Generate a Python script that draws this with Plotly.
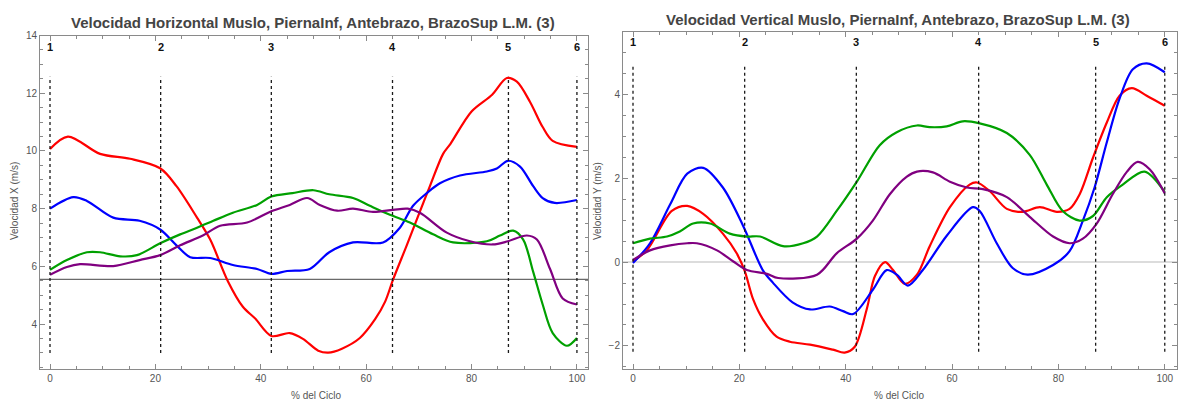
import plotly.graph_objects as go

# ---- event markers (% of cycle) ----
events = [0, 21, 42, 65, 87, 100]
event_labels = ["1", "2", "3", "4", "5", "6"]

# ---- horizontal velocity (m/s) ----
hx_red = [0, 3.4, 9.5, 15.2, 20.9, 24, 27.9, 30.4, 33.8, 36.6, 38.9, 42, 45.5, 48, 50.9, 52.8, 55.4, 58.8, 61.7, 63.6, 65.1, 67.7, 69.6, 72.1, 74.6, 76, 80, 83.9, 86.7, 88.6, 91.1, 93.5, 95.4, 100]
hy_red = [10.07, 10.5, 9.9, 9.73, 9.4, 8.78, 7.69, 6.93, 5.47, 4.6, 4.2, 3.59, 3.69, 3.49, 3.08, 3.01, 3.15, 3.52, 4.17, 4.78, 5.54, 6.73, 7.62, 8.78, 9.9, 10.25, 11.37, 11.95, 12.53, 12.4, 11.7, 10.83, 10.35, 10.14]

hx_blue = [0, 4.4, 7, 12, 17, 20.9, 24, 26.6, 30.4, 34.7, 39.3, 42, 45, 49.3, 53, 57.5, 63.2, 66.4, 68.9, 71.5, 74, 77.8, 82.9, 84.8, 86.9, 89.2, 91.7, 93.5, 95.8, 100]
hy_blue = [8.0, 8.4, 8.27, 7.69, 7.58, 7.28, 6.73, 6.32, 6.29, 6.05, 5.91, 5.74, 5.84, 5.91, 6.49, 6.83, 6.83, 7.34, 8.1, 8.54, 8.88, 9.15, 9.29, 9.39, 9.66, 9.46, 8.78, 8.37, 8.2, 8.3]

hx_green = [0, 3.2, 7, 9.5, 13.3, 16.5, 20.9, 24.7, 27.9, 31, 34.7, 39.3, 42, 46, 50, 53, 57.5, 60.7, 64.5, 68.3, 72.7, 76.5, 82.9, 85.4, 87.9, 89.8, 91.7, 93.5, 95.4, 98.1, 100]
hy_green = [5.88, 6.22, 6.49, 6.49, 6.35, 6.39, 6.8, 7.11, 7.34, 7.58, 7.86, 8.13, 8.42, 8.54, 8.64, 8.5, 8.37, 8.1, 7.79, 7.52, 7.11, 6.83, 6.87, 7.07, 7.24, 6.93, 5.81, 4.68, 3.69, 3.25, 3.52]

hx_purple = [0, 3.2, 5.7, 12, 17, 20.9, 24.7, 29, 32.3, 37.4, 42, 45.5, 48.8, 51.2, 54.5, 57.5, 61.3, 65.1, 67.9, 70.2, 75.3, 79.7, 84, 86.9, 90.5, 92.4, 94.9, 97.3, 100]
hy_purple = [5.71, 5.98, 6.08, 6.01, 6.22, 6.39, 6.73, 7.07, 7.41, 7.52, 7.91, 8.13, 8.37, 8.13, 7.93, 8.0, 7.89, 7.96, 8.0, 7.86, 7.17, 6.87, 6.76, 6.87, 7.07, 6.93, 5.91, 4.89, 4.68]

h_axis_origin = 5.55

# ---- vertical velocity (m/s) ----
vx_red = [0, 2.6, 7.3, 10.2, 13.2, 16.9, 19.5, 21, 22.6, 24.4, 27, 29.5, 33.3, 37.6, 39.8, 41.7, 44, 45.5, 47.4, 48.9, 51.1, 53.4, 55.8, 59.6, 63.3, 64.7, 67.1, 70.3, 73.3, 76.5, 79.7, 82.1, 84, 86.5, 89.1, 91.5, 93.8, 96.6, 100]
vy_red = [0.02, 0.28, 1.22, 1.34, 1.15, 0.68, 0.21, -0.21, -0.89, -1.36, -1.78, -1.9, -1.97, -2.09, -2.16, -2.02, -1.1, -0.33, 0.0, -0.19, -0.52, -0.3, 0.38, 1.31, 1.85, 1.9, 1.69, 1.27, 1.2, 1.31, 1.2, 1.27, 1.62, 2.49, 3.33, 3.97, 4.15, 3.97, 3.73]

vx_blue = [0, 3.2, 7, 10.2, 13.2, 16.9, 20.7, 24.4, 26.3, 30, 33.3, 37, 39.5, 41.4, 45.1, 47.7, 49.6, 51.7, 54.5, 59, 63.9, 65.2, 68.4, 71.4, 74.2, 79, 82.1, 84.6, 86.8, 89.1, 91.5, 94, 96.6, 100]
vy_blue = [-0.02, 0.45, 1.38, 2.11, 2.25, 1.78, 0.87, -0.19, -0.49, -0.96, -1.13, -1.06, -1.17, -1.24, -0.66, -0.19, -0.3, -0.56, -0.19, 0.63, 1.31, 1.22, 0.45, -0.14, -0.3, -0.07, 0.26, 0.99, 1.78, 2.86, 3.9, 4.6, 4.74, 4.53]

vx_green = [0, 3.2, 6.4, 8.8, 11.3, 14.5, 18.2, 21.4, 23.9, 28.2, 32, 34.6, 38.3, 42.1, 46.4, 49.6, 53.4, 55.8, 59, 62, 65.2, 70.3, 74.6, 77.8, 80.8, 84, 86.5, 89.1, 92.1, 96.2, 100]
vy_green = [0.45, 0.56, 0.61, 0.73, 0.92, 0.92, 0.68, 0.61, 0.61, 0.38, 0.45, 0.61, 1.22, 1.92, 2.79, 3.1, 3.26, 3.22, 3.24, 3.36, 3.31, 3.08, 2.56, 1.85, 1.22, 0.99, 1.1, 1.55, 1.85, 2.16, 1.67]

vx_purple = [0, 3.2, 7, 10.2, 12, 15.8, 18.8, 21.4, 25.2, 27.3, 34.6, 38.3, 42.1, 45.1, 48.3, 51.5, 53.4, 56.4, 59.6, 62.8, 65.8, 70.3, 74.6, 79, 82.1, 84.6, 87.2, 90.2, 92.9, 94.9, 97.2, 100]
vy_purple = [0.05, 0.28, 0.4, 0.45, 0.45, 0.28, 0.02, -0.19, -0.28, -0.38, -0.3, 0.21, 0.56, 0.99, 1.62, 2.04, 2.16, 2.14, 1.92, 1.78, 1.74, 1.55, 1.08, 0.61, 0.45, 0.56, 0.92, 1.62, 2.16, 2.39, 2.21, 1.64]

RED = "#ff0000"
BLUE = "#0000ff"
GREEN = "#00a000"
PURPLE = "#800080"
FRAME = "#8a8a8a"
TXT = "#555555"

W, H = 1185, 405


def px_x(p):
    return p / W


def px_y(p):
    return 1 - p / H


fig = go.Figure()

series = [
    ("x", "y", hx_red, hy_red, RED),
    ("x", "y", hx_blue, hy_blue, BLUE),
    ("x", "y", hx_green, hy_green, GREEN),
    ("x", "y", hx_purple, hy_purple, PURPLE),
    ("x2", "y2", vx_red, vy_red, RED),
    ("x2", "y2", vx_blue, vy_blue, BLUE),
    ("x2", "y2", vx_green, vy_green, GREEN),
    ("x2", "y2", vx_purple, vy_purple, PURPLE),
]
for xa, ya, xs, ys, col in series:
    fig.add_trace(go.Scatter(
        x=xs, y=ys, xaxis=xa, yaxis=ya, mode="lines",
        line=dict(color=col, width=2.2, shape="spline", smoothing=0.9),
        showlegend=False, hoverinfo="skip",
    ))

tickfont = dict(family="Liberation Sans, Arial, sans-serif", size=10, color=TXT)


def frame_axis(domain, rng, dtick, minor_dtick, tickvals=None):
    ax = dict(
        domain=domain, range=rng, showgrid=False, zeroline=False,
        showline=True, linecolor=FRAME, linewidth=1, mirror="allticks",
        ticks="inside", ticklen=5, tickcolor=FRAME, tickwidth=1,
        tickfont=tickfont, dtick=dtick, tick0=0,
        minor=dict(dtick=minor_dtick, tick0=0, ticks="inside", ticklen=3,
                   tickcolor=FRAME, showgrid=False),
        fixedrange=True,
    )
    if tickvals is not None:
        ax["tickmode"] = "array"
        ax["tickvals"] = tickvals
        ax.pop("dtick")
    return ax


fig.update_layout(
    width=W, height=H,
    margin=dict(l=0, r=0, t=0, b=0),
    paper_bgcolor="white", plot_bgcolor="white",
    xaxis=frame_axis([px_x(40), px_x(588)], [-1.9, 102.1], 20, 5),
    yaxis=frame_axis([px_y(368), px_y(30)], [2.46, 14.0], 2, 0.5,
                     tickvals=[4, 6, 8, 10, 12, 14]),
    xaxis2=frame_axis([px_x(623), px_x(1177)], [-1.88, 102.3], 20, 5),
    yaxis2=frame_axis([px_y(368), px_y(26)], [-2.54, 5.5], 2, 0.5,
                      tickvals=[-2, 0, 2, 4]),
)
fig.layout.yaxis2.anchor = "x2"
fig.layout.xaxis2.anchor = "y2"

# reference lines
fig.add_shape(type="line", xref="x domain", yref="y", x0=0, x1=1,
              y0=h_axis_origin, y1=h_axis_origin,
              line=dict(color="#6a6a6a", width=1.2), layer="below")
fig.add_shape(type="line", xref="x2 domain", yref="y2", x0=0, x1=1,
              y0=0, y1=0, line=dict(color="#d0d0d0", width=1.5), layer="below")

# event lines and labels
for xa, ya, y_lo, y_hi, y_lab in [("x", "y", 0.047, 0.876, 0.967),
                                  ("x2", "y2", 0.05, 0.90, 0.968)]:
    for ev, lab in zip(events, event_labels):
        fig.add_shape(type="line", xref=xa, yref=f"{ya} domain",
                      x0=ev, x1=ev, y0=y_lo, y1=y_hi,
                      line=dict(color="#1a1a1a", width=1.3, dash="3px,3px"))
        fig.add_annotation(x=ev, y=y_lab, xref=xa, yref=f"{ya} domain",
                           xanchor="center", yanchor="middle",
                           text=f"<b>{lab}</b>", showarrow=False,
                           font=dict(family="Liberation Sans, Arial, sans-serif",
                                     size=11, color="#111111"))

titlefont = dict(family="Liberation Sans, Arial, sans-serif", size=15, color="#444444")
labfont = dict(family="Liberation Sans, Arial, sans-serif", size=10, color=TXT)


def text_at(xp, yp, text, font, angle=0):
    fig.add_annotation(x=px_x(xp), y=px_y(yp), xref="paper", yref="paper",
                       xanchor="center", yanchor="middle", textangle=angle,
                       text=text, showarrow=False, font=font)


text_at(313, 17, "<b>Velocidad Horizontal Muslo, PiernaInf, Antebrazo, BrazoSup L.M. (3)</b>", titlefont)
text_at(898, 14, "<b>Velocidad Vertical Muslo, PiernaInf, Antebrazo, BrazoSup L.M. (3)</b>", titlefont)
text_at(316, 395, "% del Ciclo", labfont)
text_at(899, 395, "% del Ciclo", labfont)
text_at(14, 198, "Velocidad X (m/s)", labfont, -90)
text_at(597, 198, "Velocidad Y (m/s)", labfont, -90)

fig.write_html("out.html")
